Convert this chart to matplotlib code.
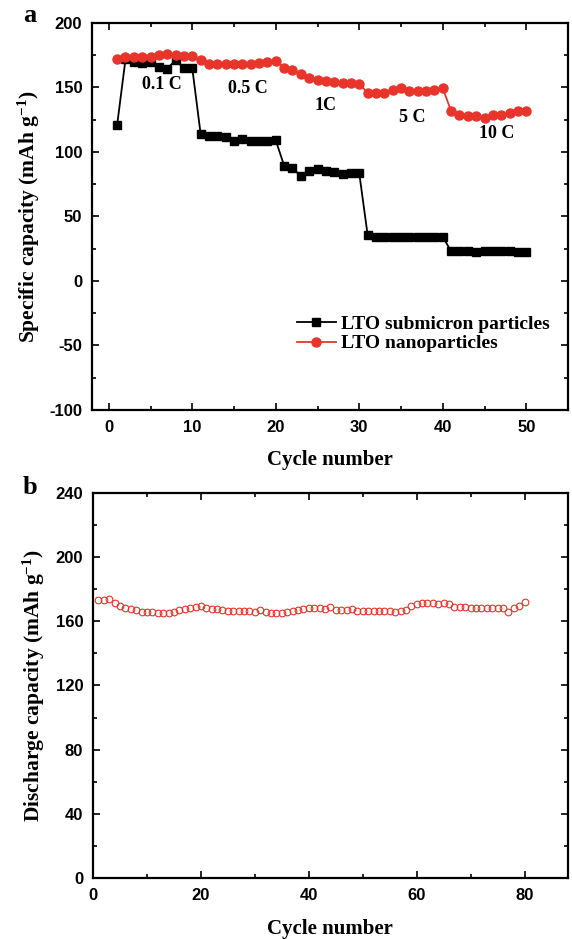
from matplotlib import pyplot as plt
from matplotlib.ticker import MultipleLocator

plt.rcParams['axes.unicode_minus'] = False
plt.rcParams['mathtext.default'] = 'regular'

# panel a data
cycles_a = list(range(1, 51))
submicron = [121, 171.8, 170.1, 169.1, 170.1, 165.6, 164.6, 171.3, 164.9, 164.9,
             114, 112.4, 112.4, 111.3, 108.8, 110.1, 108.8, 108.8, 108.2, 109,
             89.4, 87.6, 81.2, 85.3, 86.8, 85.5, 84.3, 83, 84, 83.5,
             35.7, 34.4, 34.4, 34.3, 34.3, 34.4, 34.3, 34.3, 34.4, 34.3,
             23, 23, 23, 22.5, 23, 23, 23, 23, 22.7, 22.7]
nano = [172.1, 173.4, 173.4, 173.4, 173.6, 175, 175.7, 175, 174.7, 174.4,
        171, 168, 168, 168.5, 168.5, 168.5, 168.5, 169, 170, 170.5,
        165.4, 163.6, 160.2, 157.1, 155.6, 155.3, 154.2, 153.2, 153.2, 152.7,
        146, 146, 145.8, 148.3, 149.4, 147.3, 147, 147, 147.8, 149.4,
        131.8, 129, 127.7, 127.7, 126.7, 129, 129, 130, 131.8, 131.8]
rate_labels = ['0.1 C', '0.5 C', '1C', '5 C', '10 C']
rate_x = [6.3, 16.7, 26.0, 36.4, 46.4]
rate_y = [152.7, 149.6, 135.7, 127.1, 114.7]

# panel b data
cycles_b = list(range(1, 81))
discharge = [173.0, 173.0, 174.2, 171.7, 169.7, 168.6, 167.6, 167.0, 166.1, 165.7,
             165.7, 165.3, 165.3, 165.3, 165.5, 166.8, 167.8, 168.6, 168.8, 169.7,
             168.2, 167.4, 167.6, 166.8, 166.3, 166.3, 166.3, 166.3, 166.3, 165.7,
             166.8, 165.7, 165.1, 165.1, 165.1, 165.7, 166.5, 167.2, 167.6, 168.2,
             168.6, 168.2, 167.8, 169.2, 167.2, 166.8, 166.8, 167.8, 166.3, 166.3,
             166.3, 166.3, 166.3, 166.3, 166.3, 166.0, 166.3, 167.2, 169.7, 170.9,
             171.3, 171.3, 171.3, 170.7, 171.1, 170.7, 169.2, 168.8, 168.8, 168.6,
             168.4, 168.2, 168.2, 168.2, 168.2, 168.2, 165.7, 168.2, 169.7, 172.0]

red = '#e8342a'
serif = 'Liberation Serif'
sans = 'Liberation Sans'

fig = plt.figure(figsize=(5.72, 9.39), dpi=100)


def style_axes(ax):
    for s in ax.spines.values():
        s.set_linewidth(1.6)
    ax.tick_params(which='both', direction='in', top=True, right=True, width=1.2)
    ax.tick_params(which='major', length=5, pad=7)
    ax.tick_params(which='minor', length=3)
    for lab in ax.get_xticklabels() + ax.get_yticklabels():
        lab.set_fontfamily(sans)
        lab.set_fontweight('bold')
        lab.set_fontsize(12)


# Panel a
ax1 = fig.add_axes([0.161, 0.5634, 0.832, 0.4121])
ax1.plot(cycles_a, submicron, color='black', lw=1.3, marker='s', ms=5.5,
         label='LTO submicron particles')
ax1.plot(cycles_a, nano, color=red, lw=1.3, marker='o', ms=6.5,
         label='LTO nanoparticles')
for t, x, y in zip(rate_labels, rate_x, rate_y):
    ax1.text(x, y, t, ha='center', va='center', fontfamily=serif,
             fontweight='bold', fontsize=13)
ax1.set_xlim(-2, 55)
ax1.set_ylim(-100, 200)
ax1.xaxis.set_major_locator(MultipleLocator(10))
ax1.xaxis.set_minor_locator(MultipleLocator(5))
ax1.yaxis.set_major_locator(MultipleLocator(50))
ax1.yaxis.set_minor_locator(MultipleLocator(25))
style_axes(ax1)
ax1.set_xlabel('Cycle number', fontfamily=serif, fontweight='bold', fontsize=15, labelpad=11)
ax1.set_ylabel('Specific capacity (mAh g$^{-1}$)', fontfamily=serif,
               fontweight='bold', fontsize=15.5, labelpad=5)
ax1.legend(loc='upper left', bbox_to_anchor=(0.41, 0.27), frameon=False,
           borderpad=0, handlelength=2.0, handletextpad=0.25, labelspacing=0.1,
           prop={'family': serif, 'weight': 'bold', 'size': 14})

# Panel b
ax2 = fig.add_axes([0.1626, 0.065, 0.830, 0.41])
ax2.plot(cycles_b, discharge, ls='none', marker='o', ms=4.8, mfc='none',
         mec=red, mew=0.8)
ax2.set_xlim(0, 88)
ax2.set_ylim(0, 240)
ax2.xaxis.set_major_locator(MultipleLocator(20))
ax2.xaxis.set_minor_locator(MultipleLocator(10))
ax2.yaxis.set_major_locator(MultipleLocator(40))
ax2.yaxis.set_minor_locator(MultipleLocator(20))
style_axes(ax2)
ax2.set_xlabel('Cycle number', fontfamily=serif, fontweight='bold', fontsize=15, labelpad=12)
ax2.set_ylabel('Discharge capacity (mAh g$^{-1}$)', fontfamily=serif,
               fontweight='bold', fontsize=15.5, labelpad=6)

fig.text(0.052, 0.984, 'a', fontfamily=serif, fontweight='bold', fontsize=19,
         ha='center', va='center')
fig.text(0.052, 0.481, 'b', fontfamily=serif, fontweight='bold', fontsize=19,
         ha='center', va='center')

plt.savefig('out.png', dpi=100)
